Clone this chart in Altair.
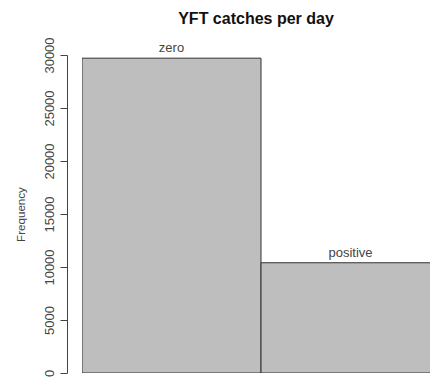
import altair as alt
import pandas as pd

categories = ["zero", "positive"]
counts = [29700, 10400]
y_ticks = [0, 5000, 10000, 15000, 20000, 25000, 30000]

df = pd.DataFrame({
    "category": categories,
    "count": counts,
    "start": list(range(len(categories))),
    "end": [i + 1 for i in range(len(categories))],
})
df["mid"] = (df["start"] + df["end"]) / 2

# the reference crops the second bar at its right edge
x_scale = alt.Scale(domain=[0, 1.944], nice=False, zero=False)
y_scale = alt.Scale(domain=[0, 30000], nice=False)

bars = alt.Chart(df).mark_rect(fill="#bebebe", stroke="#333333", strokeWidth=1, clip=True).encode(
    x=alt.X("start:Q", scale=x_scale, axis=None),
    x2="end:Q",
    y=alt.Y("count:Q", scale=y_scale,
            axis=alt.Axis(values=y_ticks, title="Frequency", grid=False,
                          labelAngle=270, labelAlign="center", labelBaseline="bottom",
                          labelPadding=4, tickSize=7, offset=15,
                          domainColor="#444444", tickColor="#444444",
                          labelColor="#444444", titleColor="#444444",
                          labelFont="Liberation Sans", titleFont="Liberation Sans",
                          labelFontSize=13, titleFontSize=11.6, titleFontWeight="normal",
                          titlePadding=17, format="d", labelFlush=False)),
    y2=alt.datum(0),
)

labels = alt.Chart(df).mark_text(baseline="bottom", dy=-3, fontSize=13,
                                 font="Liberation Sans", color="#444444").encode(
    x=alt.X("mid:Q", scale=x_scale),
    y=alt.Y("count:Q", scale=y_scale),
    text="category:N",
)

chart = (bars + labels).properties(
    width=348,
    height=318,
    autosize=alt.AutoSizeParams(type="none"),
    padding={"left": 74, "top": 47, "right": 0, "bottom": 4},
    title=alt.TitleParams("YFT catches per day", font="Liberation Sans", fontSize=16,
                          fontWeight="bold", color="#111111", offset=10, anchor="middle"),
).configure_view(stroke=None)

chart.save("out.html", embed_options={"renderer": "svg", "actions": False})
